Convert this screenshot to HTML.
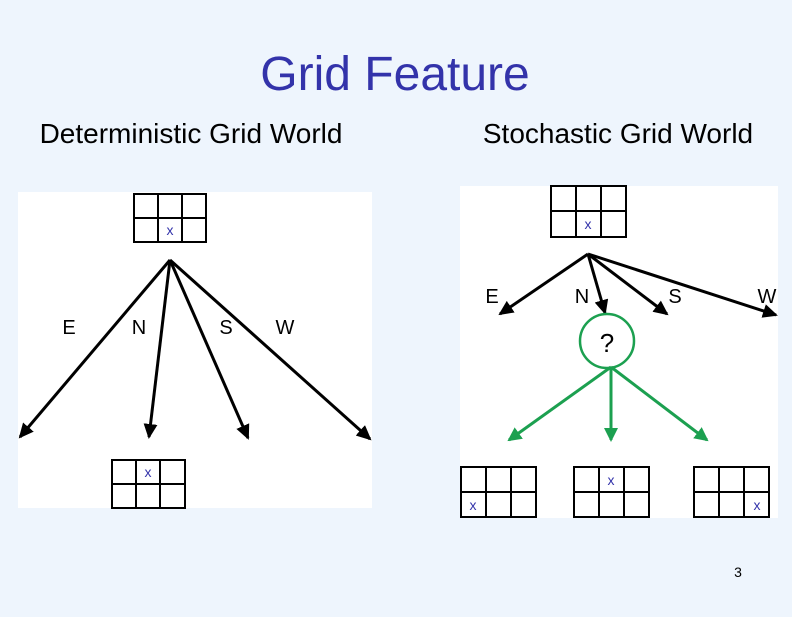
<!DOCTYPE html>
<html><head><style>
body{margin:0;width:792px;height:612px;background:#eef5fd;overflow:hidden;font-family:"Liberation Sans",sans-serif}
</style></head><body>
<svg width="792" height="612" xmlns="http://www.w3.org/2000/svg" font-family="Liberation Sans, sans-serif">
<defs>
<marker id="ab" markerWidth="15" markerHeight="14" refX="13" refY="7" orient="auto" markerUnits="userSpaceOnUse" viewBox="0 0 15 14"><path d="M0,0 L15,7 L0,14z" fill="#000"/></marker>
<marker id="ag" markerWidth="14" markerHeight="14" refX="12" refY="7" orient="auto" markerUnits="userSpaceOnUse" viewBox="0 0 14 14"><path d="M0,0 L14,7 L0,14z" fill="#1ca050"/></marker>
</defs>
<text x="395" y="90" text-anchor="middle" font-size="48" fill="#3333aa">Grid Feature</text>
<text x="191" y="143" text-anchor="middle" font-size="28" fill="#000">Deterministic Grid World</text>
<text x="618" y="143" text-anchor="middle" font-size="28" fill="#000">Stochastic Grid World</text>
<rect x="18" y="192" width="354" height="316" fill="#fff"/>
<rect x="460" y="186" width="318" height="332" fill="#fff"/>
<g stroke="#000" stroke-width="2" fill="none">
<rect x="134" y="194" width="72" height="48"/><path d="M158,194V242M182,194V242M134,218H206"/>
<rect x="112" y="460" width="73" height="48"/><path d="M136,460V508M160,460V508M112,484H185"/>
<rect x="551" y="186" width="75" height="51"/><path d="M576,186V237M601,186V237M551,211H626"/>
<rect x="461" y="467" width="75" height="50"/><path d="M486,467V517M511,467V517M461,492H536"/>
<rect x="574" y="467" width="75" height="50"/><path d="M599,467V517M624,467V517M574,492H649"/>
<rect x="694" y="467" width="75" height="50"/><path d="M719,467V517M744,467V517M694,492H769"/>
</g>
<g fill="#3333aa" font-size="14" text-anchor="middle">
<text x="170" y="235">x</text><text x="148" y="477">x</text><text x="588" y="229">x</text>
<text x="473" y="510">x</text><text x="611" y="485">x</text><text x="757" y="510">x</text>
</g>
<g stroke="#000" stroke-width="3" marker-end="url(#ab)">
<line x1="170" y1="260" x2="20" y2="437"/><line x1="170" y1="260" x2="149" y2="437"/>
<line x1="170" y1="260" x2="248" y2="438"/><line x1="170" y1="260" x2="370" y2="439"/>
<line x1="588" y1="254" x2="500" y2="314"/><line x1="588" y1="254" x2="605" y2="313"/>
<line x1="588" y1="254" x2="667" y2="314"/><line x1="588" y1="254" x2="776" y2="315"/>
</g>
<g font-size="20" fill="#000" text-anchor="middle">
<text x="69" y="334">E</text><text x="139" y="334">N</text><text x="226" y="334">S</text><text x="285" y="334">W</text>
<text x="492" y="303">E</text><text x="582" y="303">N</text><text x="675" y="303">S</text><text x="767" y="303">W</text>
</g>
<circle cx="607" cy="341" r="27" fill="#fff" stroke="#1ca050" stroke-width="2.5"/>
<text x="607" y="352" font-size="26" text-anchor="middle" fill="#000">?</text>
<g stroke="#1ca050" stroke-width="3" marker-end="url(#ag)">
<line x1="611" y1="367" x2="509" y2="440"/><line x1="611" y1="367" x2="611" y2="440"/><line x1="611" y1="367" x2="707" y2="440"/>
</g>
<text x="738" y="577" font-size="14" text-anchor="middle" fill="#000">3</text>
</svg>
</body></html>
